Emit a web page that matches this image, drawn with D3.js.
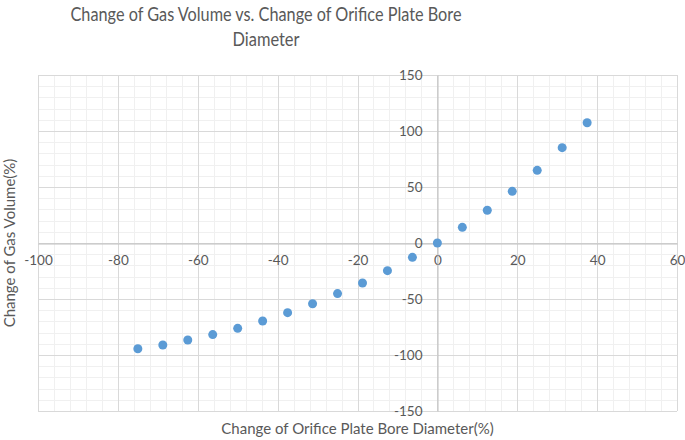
<!DOCTYPE html>
<html>
<head>
<meta charset="utf-8">
<script src="https://cdn.jsdelivr.net/npm/d3@7"></script>
<style>
  html, body { margin: 0; padding: 0; background: #fff; }
  svg { display: block; font-family: Lato, "Open Sans", sans-serif; }
</style>
</head>
<body>
<svg id="chart" width="685" height="440"></svg>
<script>
const titleLines = ["Change of Gas Volume vs. Change of Orifice Plate Bore", "Diameter"];
const xAxisTitle = "Change of Orifice Plate Bore Diameter(%)";
const yAxisTitle = "Change of Gas Volume(%)";
const boreChange = [-75, -68.75, -62.5, -56.25, -50, -43.75, -37.5, -31.25, -25, -18.75, -12.5, -6.25, 0, 6.25, 12.5, 18.75, 25, 31.25, 37.5];
const volumeChange = [-94.4, -91.1, -86.6, -81.8, -76.2, -69.6, -62.2, -54.2, -45.2, -35.7, -24.7, -12.8, 0, 14.0, 29.2, 46.1, 64.9, 85.1, 107.4];
const xTicks = [-100, -80, -60, -40, -20, 0, 20, 40, 60];
const yTicks = [-150, -100, -50, 0, 50, 100, 150];

(function () {
const svg = d3.select("#chart");
const pL = 38, pR = 677, pT = 75, pB = 411;
const x = d3.scaleLinear().domain([-100, 60]).range([pL, pR]);
const y = d3.scaleLinear().domain([-150, 150]).range([pB, pT]);

const textColor = "#595959";

// minor grid
const xMinor = d3.range(-100, 60.001, 4);
const yMinor = d3.range(-150, 150.001, 10);
svg.append("g").selectAll("line").data(xMinor).join("line")
  .attr("x1", d => Math.round(x(d)) + 0.5).attr("x2", d => Math.round(x(d)) + 0.5)
  .attr("y1", pT).attr("y2", pB).attr("stroke", "#f0f0f0").attr("stroke-width", 1);
svg.append("g").selectAll("line").data(yMinor).join("line")
  .attr("y1", d => Math.round(y(d)) + 0.5).attr("y2", d => Math.round(y(d)) + 0.5)
  .attr("x1", pL).attr("x2", pR).attr("stroke", "#f0f0f0").attr("stroke-width", 1);

// major grid
svg.append("g").selectAll("line").data(xTicks).join("line")
  .attr("x1", d => Math.round(x(d)) + 0.5).attr("x2", d => Math.round(x(d)) + 0.5)
  .attr("y1", pT).attr("y2", pB).attr("stroke", "#d9d9d9").attr("stroke-width", 1);
svg.append("g").selectAll("line").data(yTicks).join("line")
  .attr("y1", d => Math.round(y(d)) + 0.5).attr("y2", d => Math.round(y(d)) + 0.5)
  .attr("x1", pL).attr("x2", pR).attr("stroke", "#d9d9d9").attr("stroke-width", 1);

// axes at zero
const fmt = d => String(d);
const xAxis = d3.axisBottom(x).tickValues(xTicks).tickFormat(fmt).tickSize(0).tickPadding(12);
const gx = svg.append("g").attr("transform", `translate(0,${Math.round(y(0)) + 0.5})`).call(xAxis);
gx.select(".domain").attr("stroke", "#bfbfbf").attr("stroke-width", 1);
gx.selectAll("text").attr("fill", textColor).attr("font-size", 13.5);

const yAxis = d3.axisLeft(y).tickValues(yTicks).tickFormat(fmt).tickSize(0).tickPadding(15);
const gy = svg.append("g").attr("transform", `translate(${Math.round(x(0)) + 0.5},0)`).call(yAxis);
gy.select(".domain").attr("stroke", "#bfbfbf").attr("stroke-width", 1);
gy.selectAll("text").attr("fill", textColor).attr("font-size", 13.5);
gx.attr("font-family", null); gy.attr("font-family", null);

// points
svg.append("g").selectAll("circle").data(boreChange.map((b, i) => [b, volumeChange[i]])).join("circle")
  .attr("cx", d => x(d[0])).attr("cy", d => y(d[1])).attr("r", 4.5)
  .attr("fill", "#5b9bd5");

// title
const titleWidths = [391, 67];
const t = svg.append("text").attr("text-anchor", "middle").attr("fill", textColor).attr("font-size", 19.5);
t.selectAll("tspan").data(titleLines).join("tspan")
  .attr("x", 266).attr("y", (d, i) => 21 + i * 25)
  .attr("textLength", (d, i) => titleWidths[i]).attr("lengthAdjust", "spacingAndGlyphs")
  .text(d => d);

svg.append("text").attr("x", (pL + pR) / 2).attr("y", 434).attr("text-anchor", "middle")
  .attr("fill", textColor).attr("font-size", 15).text(xAxisTitle);
svg.append("text").attr("transform", `translate(15,243) rotate(-90)`).attr("text-anchor", "middle")
  .attr("fill", textColor).attr("font-size", 15).text(yAxisTitle);
})();
</script>
</body>
</html>
